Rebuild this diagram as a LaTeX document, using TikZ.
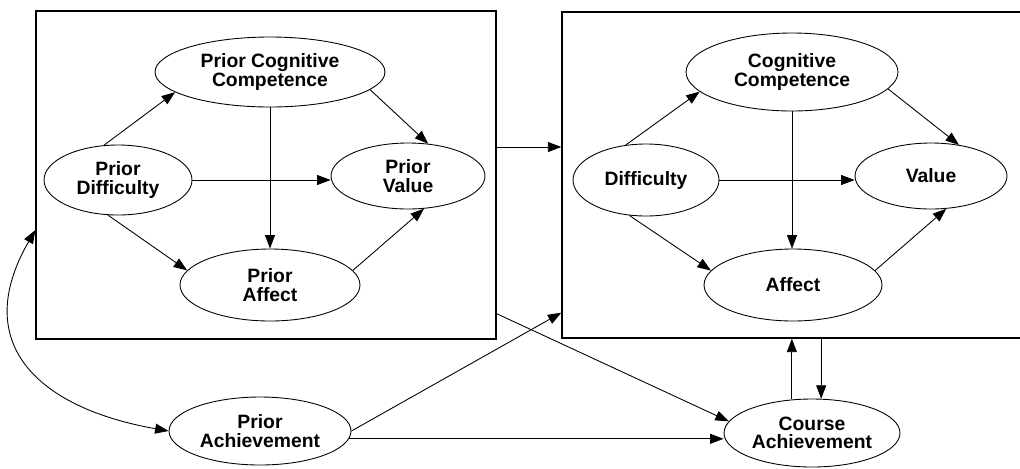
\documentclass[tikz,border=0pt]{standalone}
\usepackage{fontspec}
\setmainfont{Liberation Sans}
\usetikzlibrary{arrows.meta,shapes.geometric,calc}

\begin{document}
\begin{tikzpicture}[x=0.02cm,y=-0.02cm,
  construct/.style={draw,ellipse,line width=0.5pt,inner sep=0pt,align=center,
    font=\bfseries\fontsize{11}{10.6}\selectfont},
  panel/.style={draw,line width=0.8pt,inner sep=0pt},
  link/.style={-{Triangle[length=0.27cm,width=0.2cm]},line width=0.5pt}]
  \useasboundingbox (0,0) rectangle (1020,468);

  % prior attitudes
  \node[panel,minimum width=9.2cm,minimum height=6.56cm] (box1) at (266,175) {};
  \node[construct,minimum width=4.6cm,minimum height=1.4cm] (pcc) at (270,72) {Prior Cognitive\\Competence};
  \node[construct,minimum width=2.96cm,minimum height=1.4cm] (pd) at (118,180) {Prior\\Difficulty};
  \node[construct,minimum width=3.08cm,minimum height=1.32cm] (pv) at (408,176) {Prior\\Value};
  \node[construct,minimum width=3.6cm,minimum height=1.44cm] (pa) at (270,285) {Prior\\Affect};

  % course attitudes
  \node[panel,minimum width=9.36cm,minimum height=6.52cm] (box2) at (796,175) {};
  \node[construct,minimum width=4.24cm,minimum height=1.56cm] (cc) at (792,72) {Cognitive\\Competence};
  \node[construct,minimum width=2.92cm,minimum height=1.44cm] (d) at (646,180) {Difficulty};
  \node[construct,minimum width=3.04cm,minimum height=1.32cm] (v) at (931,176) {Value};
  \node[construct,minimum width=3.56cm,minimum height=1.44cm] (a) at (793,285) {Affect};

  % achievement
  \node[construct,minimum width=3.64cm,minimum height=1.36cm] (pach) at (260,431) {Prior\\Achievement};
  \node[construct,minimum width=3.52cm,minimum height=1.36cm] (cach) at (812,433) {Course\\Achievement};

  \draw[link] (pd.112) -- (pcc.192);
  \draw[link] (pcc.350) -- (pv.58);
  \draw[link] (pcc.south) -- (pcc.south |- pa.north);
  \draw[link] (pd.east) -- (pd.east -| pv.west);
  \draw[link] (pd.254) -- (pa.170);
  \draw[link] (pa.10) -- (pv.296);

  \draw[link] (d.120) -- (cc.192);
  \draw[link] (cc.350) -- (v.48);
  \draw[link] (cc.south) -- (cc.south |- a.north);
  \draw[link] (d.east) -- (d.east -| v.west);
  \draw[link] (d.245) -- (a.170);
  \draw[link] (a.10) -- (v.295);

  \coordinate (stab) at ($(box1.east)+(0,-28)$);
  \draw[link] (stab) -- (stab -| box2.west);
  \draw[link] (pach.east) -- ($(box2.south west)+(0,-26)$);
  \draw[link] ($(box1.south east)+(0,-26)$) -- (cach.172);
  \draw[link] (pach.-5) -- (pach.-5 -| cach.west);
  \draw[link] (cach.121) -- (cach.121 |- box2.south);
  \draw[link] (cach.75 |- box2.south) -- (cach.75);
  \draw[link,{Triangle[length=0.27cm,width=0.2cm]}-{Triangle[length=0.27cm,width=0.2cm]}]
    ($(box1.west)+(0,55)$) to[out=240,in=170,looseness=1.4] (pach.west);
\end{tikzpicture}
\end{document}
